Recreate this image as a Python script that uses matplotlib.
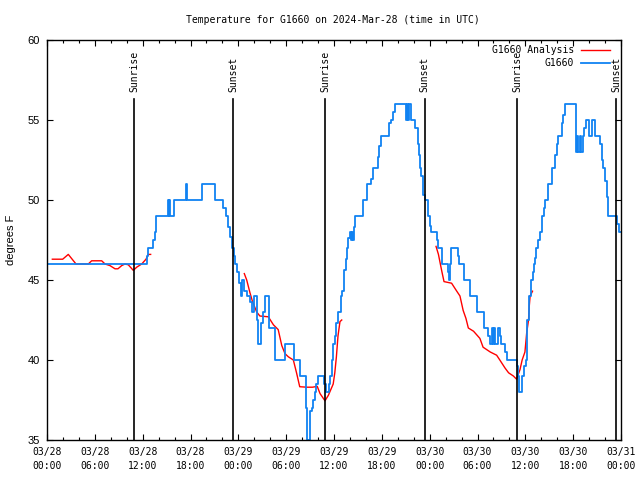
import numpy as np
import pandas as pd
import matplotlib
matplotlib.use('Agg')
import matplotlib.pyplot as plt
import matplotlib.dates as mdates

# 데이터 (2024-03-28 00:00 UTC 기준 경과 시간, 화씨 온도)
base = pd.Timestamp('2024-03-28 00:00')

obs_hours = [0.0, 12.5, 12.7, 13.26, 13.55, 13.67, 15.2, 15.3, 15.35, 15.45, 15.97,
             17.4, 17.6, 19.4, 21.1, 22.1, 22.4, 22.7, 22.95, 23.2, 23.4, 23.6, 23.8,
             24.1, 24.3, 24.4, 24.75, 25.05, 25.5, 25.7, 26.0, 26.3, 26.5, 26.9, 27.1,
             27.35, 27.8, 27.85, 28.6, 29.85, 31.0, 31.7, 32.45, 32.65, 33.0, 33.2,
             33.4, 33.6, 33.8, 34.0, 34.8, 34.95, 35.4, 35.5, 35.7, 35.9, 36.1, 36.3,
             36.5, 36.9, 37.05, 37.2, 37.3, 37.5, 37.6, 37.8, 38.0, 38.1, 38.25, 38.35,
             38.55, 38.6, 39.7, 40.1, 40.7, 40.9, 41.5, 41.65, 41.9, 42.9, 43.15, 43.45,
             43.65, 45.0, 45.1, 45.3, 45.45, 45.6, 46.15, 46.5, 46.65, 46.8, 46.9, 47.2,
             47.4, 47.8, 48.05, 48.2, 48.9, 49.0, 49.5, 50.3, 50.4, 50.55, 50.7, 51.5,
             51.7, 52.35, 53.05, 53.9, 54.85, 55.35, 55.55, 55.8, 56.0, 56.1, 56.2,
             56.55, 56.8, 56.95, 57.5, 57.75, 58.9, 59.05, 59.2, 59.6, 59.85, 60.05,
             60.2, 60.25, 60.4, 60.5, 60.7, 60.9, 61.1, 61.2, 61.4, 61.6, 61.85, 62.05,
             62.35, 62.45, 62.9, 63.3, 63.7, 63.95, 64.15, 64.55, 64.75, 65.0, 66.35,
             66.5, 66.65, 66.85, 67.0, 67.2, 67.4, 67.6, 68.0, 68.4, 68.75, 69.4, 69.6,
             69.8, 70.0, 70.2, 70.4, 71.45, 71.75, 72.0]
obs_temps = [46, 46.5, 47, 47.5, 48, 49, 50, 49, 50, 49, 50,
             51, 50, 51, 50, 49.5, 49, 48.3, 47.7, 47, 46.5, 46, 45.5,
             44.8, 44, 45, 44.3, 44, 43.6, 43, 44, 42.5, 41, 42.3, 43,
             44, 43, 42, 40, 41, 40, 39, 37, 35, 36.8, 37,
             37.5, 38, 38.5, 39, 38.5, 38, 38.5, 39, 40, 41, 41.5, 42.3,
             43, 44, 44.3, 45, 45.6, 46.3, 47, 47.6, 48, 47.5, 48, 47.5,
             48.3, 49, 50, 51, 51.3, 52, 52.7, 53.4, 54, 54.8, 55, 55.5,
             56, 55, 56, 55, 56, 55, 54.5, 53.5, 52.8, 52, 51.5, 50.3,
             50, 49, 48.4, 48, 47.5, 47, 46, 45.5, 45, 46, 47, 46.5,
             46, 45, 44, 43, 42, 41.5, 41, 42, 41, 42, 41,
             42, 41.5, 41, 40.5, 40, 39.6, 39, 38, 39, 39.6, 40,
             41.5, 42.5, 43.3, 44, 45, 45.5, 46, 46.4, 47, 47.5, 48, 49,
             49.5, 50, 51, 52, 52.8, 53.5, 54, 54.8, 55.3, 56, 53,
             54, 53, 54, 53, 54, 54.5, 55, 54, 55, 54, 53.5, 52.5,
             52, 51.2, 50.2, 49, 48.5, 48, 48]

ana_hours = [0.67, 1.97, 2.67, 3.64, 5.18, 5.6, 6.86, 7.28, 7.9, 8.53, 8.9, 9.37,
             9.78, 10.2, 10.83, 11.25, 11.88, 12.42, 12.7, 13.0, 13.1,
             24.75, 25.05, 25.46, 25.75, 26.3, 26.7, 27.76, 28.4, 29.0, 29.45, 29.85,
             30.27, 30.9, 31.3, 31.7, 32.6, 33.3, 33.9, 34.25, 34.87, 35.3, 35.9,
             36.1, 36.3, 36.5, 36.75, 36.97, 37.0,
             48.8, 49.1, 49.5, 49.8, 50.75, 51.4, 51.8, 52.2, 52.55, 52.85, 53.5,
             54.3, 54.7, 55.6, 56.4, 56.8, 57.45, 57.9, 58.5, 58.9, 59.33, 59.6,
             59.95, 60.17, 60.4, 60.5, 60.6, 60.9]
ana_temps = [46.3, 46.3, 46.6, 46.0, 46.0, 46.2, 46.2, 46.0, 45.9, 45.7, 45.7, 45.9,
             46.0, 45.95, 45.6, 45.8, 46.0, 46.3, 46.6, 46.6, np.nan,
             45.4, 45.0, 44.2, 43.7, 43.0, 42.75, 42.7, 42.2, 41.9, 40.9, 40.4,
             40.2, 40.0, 39.2, 38.33, 38.3, 38.3, 38.35, 37.9, 37.45, 37.8, 38.5,
             39.2, 40.2, 41.5, 42.4, 42.5, np.nan,
             47.1, 46.6, 45.6, 44.9, 44.8, 44.3, 44.0, 43.1, 42.6, 42.0, 41.8,
             41.35, 40.8, 40.5, 40.3, 40.0, 39.5, 39.2, 39.0, 38.8, 39.4, 40.0,
             40.5, 41.7, 42.5, 43.4, 44.0, 44.3]

sunrise_hours = [10.95, 34.93, 58.95]
sunset_hours = [23.37, 47.38, 71.42]

mono = 'DejaVu Sans Mono'
sans = 'Liberation Sans'

def to_time(hours):
    return base + pd.to_timedelta(hours, unit='h')

fig = plt.figure(figsize=(6.4, 4.8), dpi=100)
ax = fig.add_axes([47 / 640, 40 / 480, 574 / 640, 400 / 480])

ax.plot(to_time(ana_hours), ana_temps, color='#ff0000', lw=1.0, label='G1660 Analysis')
ax.plot(to_time(obs_hours), obs_temps, color='#1082f2', lw=1.3, drawstyle='steps-post',
        label='G1660')

# 일출 / 일몰 표시
for h in sunrise_hours:
    t = to_time(h)
    ax.axvline(t, ymin=0, ymax=0.8525, color='black', lw=1.2)
    ax.text(t, 0.87, 'Sunrise', rotation=90, ha='center', va='bottom',
            transform=ax.get_xaxis_transform(), family=mono, fontsize=7)
for h in sunset_hours:
    t = to_time(h)
    ax.axvline(t, ymin=0, ymax=0.8525, color='black', lw=1.2)
    ax.text(t, 0.87, 'Sunset', rotation=90, ha='center', va='bottom',
            transform=ax.get_xaxis_transform(), family=mono, fontsize=7)

ax.set_xlim(base, base + pd.Timedelta(hours=72))
ax.set_ylim(35, 60)
ax.set_yticks([35, 40, 45, 50, 55, 60])

ax.xaxis.set_major_locator(mdates.HourLocator(byhour=[0, 6, 12, 18]))
ax.xaxis.set_minor_locator(mdates.HourLocator(interval=2))
ax.xaxis.set_major_formatter(mdates.DateFormatter('%m/%d\n%H:%M'))

ax.tick_params(which='both', direction='in', top=True, right=True, width=0.8)
ax.tick_params(which='major', length=4)
ax.tick_params(which='minor', length=2.5)
ax.tick_params(axis='x', pad=5)
ax.tick_params(axis='y', pad=5)

for lbl in ax.get_xticklabels():
    lbl.set_family(mono)
    lbl.set_fontsize(7)
    lbl.set_linespacing(1.55)
for lbl in ax.get_yticklabels():
    lbl.set_family(sans)
    lbl.set_fontsize(8)

for sp in ax.spines.values():
    sp.set_linewidth(1.0)

ax.set_ylabel('degrees F', family=sans, fontsize=8)
ax.yaxis.set_label_coords(-31 / 574, 0.5)

leg = ax.legend(loc='upper right', bbox_to_anchor=(563 / 574, 395 / 400), frameon=False,
                markerfirst=False, handlelength=3.0, handletextpad=0.7,
                labelspacing=0.3, borderpad=0, borderaxespad=0,
                prop={'family': mono, 'size': 7})

fig.text(332.5 / 640, 1 - 20 / 480, 'Temperature for G1660 on 2024-Mar-28 (time in UTC)',
         ha='center', va='center', family=mono, fontsize=7)

fig.savefig('out.png', dpi=100)
